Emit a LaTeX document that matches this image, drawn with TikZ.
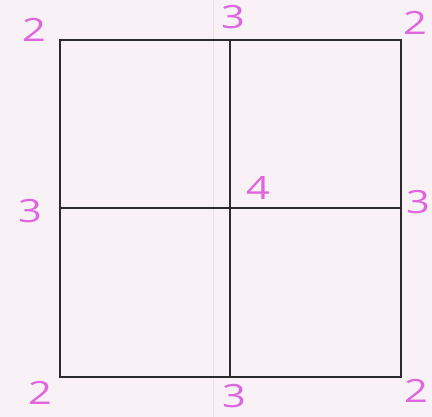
\documentclass[tikz,border=0pt]{standalone}
\usepackage{fontspec}
\setsansfont{Open Sans}
\definecolor{paper}{HTML}{F8F1F5}
\definecolor{ink}{HTML}{2A2A2A}
\definecolor{pen}{HTML}{DE66DE}
\definecolor{fold}{HTML}{F2DCE8}
\begin{document}
\begin{tikzpicture}[x=1pt,y=-1pt,
  gridline/.style={draw=ink,line width=1.8pt},
  num/.style={text=pen,font=\sffamily\fontsize{32}{32}\selectfont,inner sep=0pt,anchor=center,xscale=1.3}]
\fill[paper] (0,0) rectangle (432,417);
\useasboundingbox (0,0) rectangle (432,417);
\coordinate (ft) at (213,0);
\coordinate (fb) at (213,417);
\draw[fold,line width=0.8pt] (ft) -- (fb);
\coordinate (tl) at (60,40);
\coordinate (tm) at (230,40);
\coordinate (tr) at (401,40);
\coordinate (ml) at (60,208);
\coordinate (mr) at (401,208);
\coordinate (bl) at (60,377);
\coordinate (bm) at (230,377);
\coordinate (br) at (401,377);
\draw[gridline] (tl) -- (tr) -- (br) -- (bl) -- cycle;
\draw[gridline] (tm) -- (bm);
\draw[gridline] (ml) -- (mr);
\node[num] (n1) at (34,30) {2};
\node[num] (n2) at (233,17) {3};
\node[num] (n3) at (415,23) {2};
\node[num] (n4) at (258,188) {4};
\node[num] (n5) at (30,211) {3};
\node[num] (n6) at (418,202) {3};
\node[num] (n7) at (40,393) {2};
\node[num] (n8) at (234,396) {3};
\node[num] (n9) at (416,391) {2};
\end{tikzpicture}
\end{document}
